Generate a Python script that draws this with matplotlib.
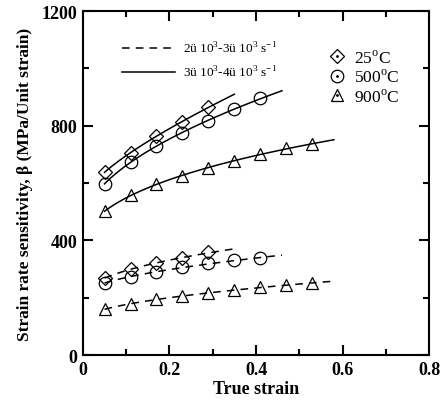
import numpy as np
import matplotlib
matplotlib.use("Agg")
import matplotlib.pyplot as plt
from matplotlib.lines import Line2D

plt.rcParams["font.family"] = ["Liberation Serif", "DejaVu Serif"]
plt.rcParams["mathtext.fontset"] = "custom"
plt.rcParams["mathtext.rm"] = "Liberation Serif"

# true strain at the measured points
strain = [0.05, 0.11, 0.17, 0.23, 0.29, 0.35, 0.41, 0.47, 0.53]

# high strain rate (3x10^3 - 4x10^3 s^-1), solid lines
beta_hi_25 = [638, 705, 765, 815, 864]
beta_hi_500 = [596, 675, 730, 776, 817, 858, 896]
beta_hi_900 = [501, 558, 596, 625, 654, 678, 701, 721, 736]

# low strain rate (2x10^3 - 3x10^3 s^-1), dashed lines
beta_lo_25 = [268, 300, 323, 337, 358]
beta_lo_500 = [253, 271, 290, 306, 320, 331, 338]
beta_lo_900 = [160, 178, 195, 205, 216, 228, 236, 244, 251]

# how far each fitted curve runs
fit_end = {"25": 0.35, "500": 0.46, "900": 0.58}

temps = ["25", "500", "900"]
markers = {"25": "D", "500": "o", "900": "^"}
msize = {"25": 7, "500": 9, "900": 9}


def trend(x, y, x_end):
    # least squares trend line y = a + b*sqrt(x) + c*x
    A = np.column_stack([np.ones_like(x), np.sqrt(x), x])
    coef = np.linalg.lstsq(A, y, rcond=None)[0]
    xs = np.linspace(x[0], x_end, 100)
    return xs, coef[0] + coef[1] * np.sqrt(xs) + coef[2] * xs


fig = plt.figure(figsize=(4.41, 4.06), dpi=100)
ax = fig.add_axes([0.188, 0.123, 0.785, 0.847])

hi = {"25": beta_hi_25, "500": beta_hi_500, "900": beta_hi_900}
lo = {"25": beta_lo_25, "500": beta_lo_500, "900": beta_lo_900}

for t in temps:
    for data, ls in ((hi[t], "-"), (lo[t], (0, (5, 4)))):
        x = np.array(strain[:len(data)])
        y = np.array(data, dtype=float)
        xs, ys = trend(x, y, fit_end[t])
        ax.plot(xs, ys, color="black", lw=1.1, ls=ls, zorder=2)
        ax.plot(x, y, ls="none", marker=markers[t], ms=msize[t],
                mfc="none", mec="black", mew=0.9, zorder=3)

ax.set_xlim(0, 0.8)
ax.set_ylim(0, 1200)
ax.set_xticks([0, 0.2, 0.4, 0.6, 0.8])
ax.set_xticklabels(["0", "0.2", "0.4", "0.6", "0.8"])
ax.set_yticks([0, 400, 800, 1200])
ax.set_xticks([0.1, 0.3, 0.5, 0.7], minor=True)
ax.set_yticks([200, 600, 1000], minor=True)
ax.tick_params(which="both", direction="in", top=True, right=True, width=1.5)
ax.tick_params(which="major", length=7, labelsize=13, pad=4)
ax.tick_params(which="minor", length=4)
for lab in ax.get_xticklabels() + ax.get_yticklabels():
    lab.set_fontweight("bold")
for sp in ax.spines.values():
    sp.set_linewidth(1.5)

ax.set_xlabel("True strain", fontsize=13, fontweight="bold", labelpad=2)
ax.set_ylabel("Strain rate sensitivity, β (MPa/Unit strain)",
              fontsize=12.5, fontweight="bold", labelpad=6)

# legend for strain rate line styles
rate_handles = [Line2D([], [], color="black", lw=1.1, ls=(0, (5, 4))),
                Line2D([], [], color="black", lw=1.1, ls="-")]
rate_labels = ["2ü 10$^3$-3ü 10$^3$ s$^{-1}$", "3ü 10$^3$-4ü 10$^3$ s$^{-1}$"]
leg1 = ax.legend(rate_handles, rate_labels, loc="upper left",
                 bbox_to_anchor=(0.08, 0.95), frameon=False, fontsize=9.5,
                 handlelength=4.0, handletextpad=0.55, labelspacing=0.7)
ax.add_artist(leg1)

# legend for temperatures, open marker with a dot in the middle
temp_handles = []
for t in temps:
    temp_handles.append((Line2D([], [], ls="none", marker=markers[t],
                                ms=msize[t], mfc="none", mec="black", mew=0.9),
                         Line2D([], [], ls="none", marker=".", ms=2,
                                color="black")))
temp_labels = ["25$^{\\rm o}$C", "500$^{\\rm o}$C", "900$^{\\rm o}$C"]
ax.legend(temp_handles, temp_labels, loc="upper left",
          bbox_to_anchor=(0.665, 0.936), frameon=False, fontsize=12.5,
          handlelength=1.0, handletextpad=0.45, labelspacing=0.12)

fig.savefig("out.png", dpi=100)
